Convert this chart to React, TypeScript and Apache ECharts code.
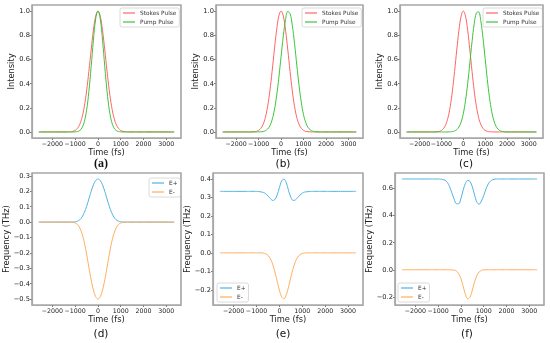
import React, { useEffect, useRef } from "react";
import * as echarts from "echarts";

// Time grid (fs)
const timeFs = [-2600, -1500, -1400, -1300, -1200, -1100, -1000, -900, -800, -700, -600, -500, -400, -300, -200, -100, 0, 100, 200, 300, 400, 500, 600, 700, 800, 900, 1000, 1100, 1200, 1300, 1400, 1500, 1600, 1700, 1800, 1900, 2000, 2100, 2200, 3350];

// Top row: intensities
const stokesPulse = [0, 0, 0, 0.001, 0.002, 0.005, 0.013, 0.030, 0.063, 0.120, 0.211, 0.339, 0.501, 0.678, 0.841, 0.958, 1.000, 0.958, 0.841, 0.678, 0.501, 0.339, 0.211, 0.120, 0.063, 0.030, 0.013, 0.005, 0.002, 0.001, 0, 0, 0, 0, 0, 0, 0, 0, 0, 0];
const pumpA = [0, 0, 0, 0, 0, 0, 0.001, 0.004, 0.012, 0.035, 0.085, 0.180, 0.334, 0.539, 0.760, 0.934, 1.000, 0.934, 0.760, 0.539, 0.334, 0.180, 0.085, 0.035, 0.012, 0.004, 0.001, 0, 0, 0, 0, 0, 0, 0, 0, 0, 0, 0, 0, 0];
const pumpB = [0, 0, 0, 0, 0, 0, 0.001, 0.001, 0.004, 0.010, 0.024, 0.051, 0.100, 0.180, 0.297, 0.449, 0.624, 0.795, 0.930, 0.996, 0.979, 0.882, 0.730, 0.553, 0.385, 0.245, 0.143, 0.077, 0.038, 0.017, 0.007, 0.003, 0.001, 0, 0, 0, 0, 0, 0, 0];
const pumpC = [0, 0, 0, 0, 0, 0, 0, 0, 0, 0, 0.001, 0.003, 0.008, 0.019, 0.041, 0.082, 0.152, 0.258, 0.400, 0.571, 0.747, 0.895, 0.985, 0.993, 0.919, 0.780, 0.607, 0.433, 0.283, 0.170, 0.094, 0.047, 0.022, 0.009, 0.004, 0.001, 0, 0, 0, 0];

// Bottom row: frequencies (THz)
const ePlusD = [0, 0, 0, 0, 0, 0, 0.002, 0.006, 0.015, 0.033, 0.062, 0.102, 0.150, 0.200, 0.242, 0.270, 0.280, 0.270, 0.242, 0.200, 0.150, 0.102, 0.062, 0.033, 0.015, 0.006, 0.002, 0, 0, 0, 0, 0, 0, 0, 0, 0, 0, 0, 0, 0];
const eMinusD = [0, 0, 0, 0, 0, -0.002, -0.006, -0.016, -0.038, -0.076, -0.133, -0.208, -0.293, -0.375, -0.442, -0.485, -0.500, -0.485, -0.442, -0.375, -0.293, -0.208, -0.133, -0.076, -0.038, -0.016, -0.006, -0.002, 0, 0, 0, 0, 0, 0, 0, 0, 0, 0, 0, 0];
const ePlusE = [0.333, 0.333, 0.333, 0.333, 0.333, 0.333, 0.333, 0.332, 0.330, 0.327, 0.320, 0.308, 0.295, 0.284, 0.289, 0.313, 0.353, 0.390, 0.399, 0.379, 0.337, 0.301, 0.284, 0.287, 0.300, 0.313, 0.323, 0.329, 0.331, 0.332, 0.333, 0.333, 0.333, 0.333, 0.333, 0.333, 0.333, 0.333, 0.333, 0.333];
const eMinusE = [0, 0, 0, 0, 0, 0, 0, 0, 0, -0.002, -0.005, -0.014, -0.031, -0.060, -0.102, -0.153, -0.203, -0.238, -0.249, -0.227, -0.184, -0.132, -0.084, -0.047, -0.023, -0.010, -0.003, -0.001, 0, 0, 0, 0, 0, 0, 0, 0, 0, 0, 0, 0];
const ePlusF = [0.667, 0.667, 0.667, 0.667, 0.667, 0.667, 0.667, 0.666, 0.663, 0.657, 0.642, 0.610, 0.565, 0.519, 0.486, 0.485, 0.526, 0.587, 0.636, 0.657, 0.648, 0.609, 0.548, 0.497, 0.482, 0.505, 0.546, 0.593, 0.631, 0.652, 0.662, 0.666, 0.667, 0.667, 0.667, 0.667, 0.667, 0.667, 0.667, 0.667];
const eMinusF = [0, 0, 0, 0, 0, 0, 0, 0, 0, 0, 0, 0, -0.001, -0.003, -0.010, -0.029, -0.067, -0.124, -0.183, -0.214, -0.200, -0.149, -0.088, -0.042, -0.016, -0.005, -0.001, 0, 0, 0, 0, 0, 0, 0, 0, 0, 0, 0, 0, 0];

const xTicks = [-2000, -1000, 0, 1000, 2000, 3000];
const intensityTicks = [0, 0.2, 0.4, 0.6, 0.8, 1.0];
const freqTicksD = [-0.5, -0.4, -0.3, -0.2, -0.1, 0, 0.1, 0.2, 0.3];
const freqTicksE = [-0.2, -0.1, 0, 0.1, 0.2, 0.3, 0.4];
const freqTicksF = [-0.2, 0, 0.2, 0.4, 0.6];
const panelLabels = ["(a)", "(b)", "(c)", "(d)", "(e)", "(f)"];

const RED = "#ff6464";
const GREEN = "#3cc43c";
const BLUE = "#4fb3e3";
const ORANGE = "#ffad5c";
const FRAME = "#a8a8a8";
const FONT = "DejaVu Sans";

const pair = (vals: number[]) => timeFs.map((t, i) => [t, vals[i]]);
const fmtX = (v: number) => (v < 0 ? "\u2212" + Math.abs(v) : String(v));
const fmtY = (v: number) => (v < -1e-9 ? "\u2212" : "") + Math.abs(v).toFixed(1);

export default function App() {
  const ref = useRef<HTMLDivElement>(null);
  useEffect(() => {
    document.body.style.margin = "0";
    const chart = echarts.init(ref.current!, null, { renderer: "svg" });
    const grids = [
      { left: 32, top: 5, width: 149, height: 133 },
      { left: 216, top: 5, width: 147, height: 133 },
      { left: 400, top: 5, width: 143, height: 133 },
      { left: 32, top: 173, width: 149, height: 132 },
      { left: 213, top: 173, width: 150, height: 132 },
      { left: 395, top: 173, width: 149, height: 132 },
    ];
    const yRanges = [
      { min: -0.05, max: 1.05, ticks: intensityTicks, name: "Intensity" },
      { min: -0.05, max: 1.05, ticks: intensityTicks, name: "Intensity" },
      { min: -0.05, max: 1.05, ticks: intensityTicks, name: "Intensity" },
      { min: -0.539, max: 0.319, ticks: freqTicksD, name: "Frequency (THz)" },
      { min: -0.2825, max: 0.4325, ticks: freqTicksE, name: "Frequency (THz)" },
      { min: -0.259, max: 0.711, ticks: freqTicksF, name: "Frequency (THz)" },
    ];
    const xAxis = grids.map((_, i) => ({
      type: "value",
      gridIndex: i,
      min: -2900,
      max: 3650,
      name: "Time (fs)",
      nameLocation: "middle",
      nameGap: 10,
      nameTextStyle: { fontFamily: FONT, fontSize: 8.3, color: "#222" },
      axisLine: { show: true, onZero: false, lineStyle: { color: FRAME, width: 1.2 } },
      axisTick: { show: true, length: 2, customValues: xTicks, lineStyle: { color: "#555", width: 0.8 } },
      axisLabel: { customValues: xTicks, formatter: fmtX, fontFamily: FONT, fontSize: 6.3, color: "#222", margin: 2, hideOverlap: false },
      splitLine: { show: false },
    }));
    const yAxis = yRanges.map((r, i) => ({
      type: "value",
      gridIndex: i,
      min: r.min,
      max: r.max,
      name: r.name,
      nameLocation: "middle",
      nameGap: i === 3 ? 21 : 17,
      nameTextStyle: { fontFamily: FONT, fontSize: 8.3, color: "#222" },
      axisLine: { show: true, onZero: false, lineStyle: { color: FRAME, width: 1.2 } },
      axisTick: { show: true, length: 2, customValues: r.ticks, lineStyle: { color: "#555", width: 0.8 } },
      axisLabel: { customValues: r.ticks, formatter: fmtY, fontFamily: FONT, fontSize: 6.7, color: "#222", margin: 2 },
      splitLine: { show: false },
    }));
    const mk = (name: string, vals: number[], color: string, idx: number) => ({
      type: "line",
      name,
      xAxisIndex: idx,
      yAxisIndex: idx,
      data: pair(vals),
      showSymbol: false,
      symbol: "none",
      smooth: 0.4,
      lineStyle: { color, width: 1 },
      itemStyle: { color },
    });
    const series = [
      mk("Stokes Pulse", stokesPulse, RED, 0),
      mk("Pump Pulse", pumpA, GREEN, 0),
      mk("Stokes Pulse", stokesPulse, RED, 1),
      mk("Pump Pulse", pumpB, GREEN, 1),
      mk("Stokes Pulse", stokesPulse, RED, 2),
      mk("Pump Pulse", pumpC, GREEN, 2),
      mk("E+", ePlusD, BLUE, 3),
      mk("E-", eMinusD, ORANGE, 3),
      mk("E+", ePlusE, BLUE, 4),
      mk("E-", eMinusE, ORANGE, 4),
      mk("E+", ePlusF, BLUE, 5),
      mk("E-", eMinusF, ORANGE, 5),
    ];
    const legendBase = {
      orient: "vertical",
      icon: "rect",
      itemWidth: 12,
      itemHeight: 1.2,
      itemGap: 3,
      padding: [2, 3, 2, 3],
      borderColor: "#d0d0d0",
      borderWidth: 0.8,
      borderRadius: 2,
      backgroundColor: "#fff",
      textStyle: { fontFamily: FONT, fontSize: 5.8, color: "#333" },
      selectedMode: false,
    };
    const legend = [
      { ...legendBase, data: ["Stokes Pulse", "Pump Pulse"], left: 120, top: 8 },
      { ...legendBase, data: ["Stokes Pulse", "Pump Pulse"], left: 302, top: 8 },
      { ...legendBase, data: ["Stokes Pulse", "Pump Pulse"], left: 483, top: 8 },
      { ...legendBase, data: ["E+", "E-"], left: 149, top: 178 },
      { ...legendBase, data: ["E+", "E-"], left: 217, top: 283 },
      { ...legendBase, data: ["E+", "E-"], left: 398, top: 283 },
    ];
    const labelPos = [
      [101, 163], [283, 163], [466, 163],
      [101, 333], [283, 333], [467, 333],
    ];
    const frames = grids.map((g) => ({
      type: "rect",
      shape: { x: g.left, y: g.top, width: g.width, height: g.height },
      style: { fill: "transparent", stroke: FRAME, lineWidth: 1.2 },
      silent: true,
      z: 10,
    }));
    const texts = panelLabels.map((txt, i) => ({
      type: "text",
      x: labelPos[i][0],
      y: labelPos[i][1],
      style: {
        text: txt,
        align: "center",
        verticalAlign: "middle",
        fontFamily: i === 0 ? "Liberation Serif" : FONT,
        fontWeight: i === 0 ? "bold" : "normal",
        fontSize: i === 0 ? 12 : 10.5,
        fill: "#111",
      },
    }));
    chart.setOption({
      animation: false,
      grid: grids.map((g) => ({ ...g, show: true, borderColor: FRAME, borderWidth: 1.2, backgroundColor: "rgba(0,0,0,0)" })),
      xAxis,
      yAxis,
      legend,
      series,
      graphic: [...frames, ...texts],
    });
    return () => chart.dispose();
  }, []);
  return <div ref={ref} style={{ position: "fixed", left: 0, top: 0, width: 550, height: 343 }} />;
}
